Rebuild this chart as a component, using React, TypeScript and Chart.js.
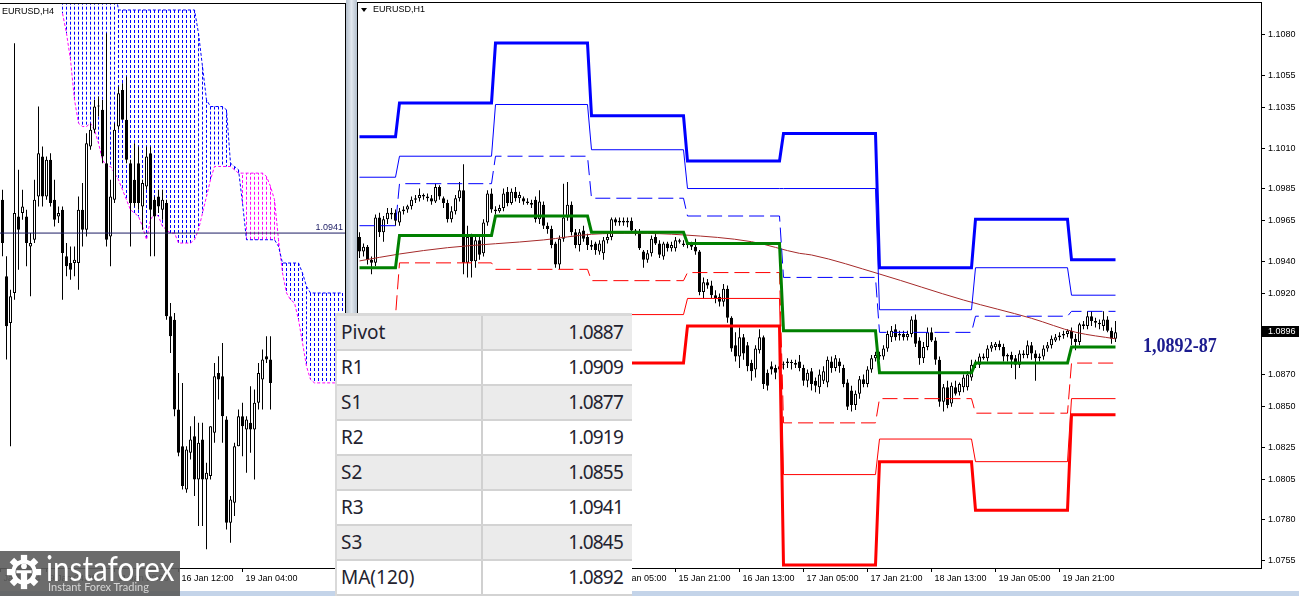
import React, { useEffect, useRef } from "react";
import { Chart, registerables } from "chart.js";

Chart.register(...registerables);

// ================= EURUSD H1 (right panel) =================
const h1Open = [
  1.0955,1.0946,1.0949,1.0941,1.0939,1.0967,1.0958,1.0966,1.0970,1.0970,
  1.0964,1.0971,1.0972,1.0974,1.0978,1.0979,1.0981,1.0980,1.0979,1.0977,
  1.0986,1.0979,1.0976,1.0966,1.0971,1.0979,1.0984,1.0939,1.0955,1.0940,
  1.0953,1.0945,1.0964,1.0982,1.0972,1.0971,1.0973,1.0983,1.0976,1.0983,
  1.0979,1.0979,1.0977,1.0976,1.0978,1.0966,1.0975,1.0962,1.0960,1.0951,
  1.0938,1.0954,1.0967,1.0975,1.0958,1.0950,1.0959,1.0955,1.0950,1.0951,
  1.0946,1.0945,1.0953,1.0955,1.0966,1.0964,1.0965,1.0964,1.0965,1.0959,
  1.0958,1.0946,1.0941,1.0945,1.0955,1.0951,1.0943,1.0951,1.0948,1.0948,
  1.0953,1.0951,1.0950,1.0950,1.0949,1.0946,1.0921,1.0927,1.0925,1.0919,
  1.0918,1.0915,1.0923,1.0905,1.0888,1.0881,1.0893,1.0888,1.0877,1.0873,
  1.0885,1.0893,1.0871,1.0875,1.0874,1.0873,1.0876,1.0877,1.0877,1.0877,
  1.0878,1.0874,1.0866,1.0872,1.0866,1.0862,1.0866,1.0865,1.0878,1.0874,
  1.0878,1.0874,1.0865,1.0860,1.0851,1.0858,1.0867,1.0864,1.0873,1.0880,
  1.0882,1.0881,1.0886,1.0893,1.0898,1.0894,1.0895,1.0893,1.0895,1.0904,
  1.0891,1.0880,1.0887,1.0896,1.0891,1.0879,1.0853,1.0862,1.0852,1.0862,
  1.0859,1.0862,1.0862,1.0868,1.0876,1.0876,1.0881,1.0880,1.0886,1.0887,
  1.0889,1.0887,1.0881,1.0882,1.0880,1.0876,1.0883,1.0882,1.0888,1.0883,
  1.0880,1.0881,1.0886,1.0888,1.0891,1.0893,1.0894,1.0895,1.0897,1.0892,
  1.0890,1.0901,1.0900,1.0906,1.0903,1.0902,1.0900,1.0904,1.0897,1.0892,
];
const h1High = [
  1.0958,1.0951,1.0950,1.0943,1.0969,1.0970,1.0968,1.0973,1.0973,1.0972,
  1.0973,1.0974,1.0975,1.0980,1.0981,1.0985,1.0982,1.0982,1.0981,1.0988,
  1.0987,1.0980,1.0978,1.0974,1.0981,1.0989,1.1000,1.0962,1.0957,1.0955,
  1.0955,1.0966,1.0984,1.0985,1.0974,1.0975,1.0985,1.0986,1.0985,1.0986,
  1.0983,1.0980,1.0979,1.0978,1.0980,1.0984,1.0977,1.0964,1.0962,1.0952,
  1.0956,1.0988,1.0989,1.0977,1.0960,1.0960,1.0962,1.0957,1.0953,1.0952,
  1.0953,1.0955,1.0957,1.0967,1.0967,1.0967,1.0967,1.0967,1.0967,1.0960,
  1.0960,1.0947,1.0947,1.0956,1.0957,1.0953,1.0952,1.0952,1.0952,1.0955,
  1.0954,1.0953,1.0952,1.0952,1.0954,1.0947,1.0930,1.0929,1.0928,1.0922,
  1.0920,1.0926,1.0925,1.0906,1.0896,1.0899,1.0895,1.0890,1.0879,1.0888,
  1.0898,1.0894,1.0873,1.0878,1.0876,1.0877,1.0878,1.0880,1.0879,1.0879,
  1.0882,1.0876,1.0873,1.0874,1.0868,1.0873,1.0875,1.0881,1.0881,1.0882,
  1.0880,1.0876,1.0867,1.0863,1.0860,1.0869,1.0870,1.0875,1.0882,1.0884,
  1.0884,1.0888,1.0897,1.0900,1.0901,1.0897,1.0897,1.0897,1.0906,1.0907,
  1.0893,1.0890,1.0899,1.0899,1.0893,1.0881,1.0864,1.0866,1.0865,1.0866,
  1.0865,1.0870,1.0872,1.0879,1.0879,1.0883,1.0883,1.0888,1.0890,1.0890,
  1.0891,1.0889,1.0883,1.0884,1.0882,1.0885,1.0885,1.0891,1.0890,1.0885,
  1.0883,1.0888,1.0890,1.0894,1.0895,1.0896,1.0897,1.0898,1.0899,1.0895,
  1.0902,1.0903,1.0909,1.0909,1.0905,1.0904,1.0909,1.0906,1.0899,1.0903,
];
const h1Low = [
  1.0942,1.0943,1.0938,1.0932,1.0937,1.0955,1.0952,1.0963,1.0966,1.0962,
  1.0962,1.0969,1.0970,1.0972,1.0976,1.0977,1.0978,1.0977,1.0975,1.0976,
  1.0978,1.0973,1.0964,1.0964,1.0969,1.0977,1.0932,1.0930,1.0930,1.0936,
  1.0941,1.0943,1.0962,1.0970,1.0969,1.0970,1.0971,1.0974,1.0975,1.0977,
  1.0976,1.0975,1.0975,1.0973,1.0964,1.0963,1.0960,1.0957,1.0948,1.0936,
  1.0935,1.0952,1.0965,1.0956,1.0948,1.0946,1.0952,1.0947,1.0947,1.0944,
  1.0944,1.0941,1.0951,1.0953,1.0962,1.0962,1.0962,1.0961,1.0958,1.0956,
  1.0947,1.0936,1.0939,1.0943,1.0950,1.0942,1.0941,1.0946,1.0946,1.0946,
  1.0951,1.0949,1.0948,1.0947,1.0944,1.0919,1.0917,1.0923,1.0917,1.0914,
  1.0912,1.0912,1.0902,1.0884,1.0878,1.0874,1.0879,1.0872,1.0866,1.0868,
  1.0883,1.0861,1.0860,1.0870,1.0867,1.0870,1.0873,1.0874,1.0873,1.0874,
  1.0872,1.0863,1.0862,1.0860,1.0859,1.0858,1.0864,1.0862,1.0871,1.0872,
  1.0871,1.0862,1.0848,1.0847,1.0848,1.0855,1.0862,1.0862,1.0871,1.0878,
  1.0879,1.0879,1.0884,1.0890,1.0891,1.0891,1.0891,1.0891,1.0893,1.0887,
  1.0876,1.0877,1.0885,1.0890,1.0876,1.0850,1.0847,1.0849,1.0850,1.0857,
  1.0857,1.0859,1.0860,1.0866,1.0874,1.0874,1.0879,1.0878,1.0884,1.0885,
  1.0885,1.0878,1.0878,1.0874,1.0867,1.0874,1.0880,1.0880,1.0879,1.0866,
  1.0878,1.0879,1.0884,1.0886,1.0890,1.0891,1.0892,1.0893,1.0888,1.0885,
  1.0888,1.0898,1.0898,1.0900,1.0899,1.0898,1.0897,1.0896,1.0889,1.0890,
];
const h1Close = [
  1.0946,1.0949,1.0941,1.0939,1.0967,1.0958,1.0966,1.0970,1.0969,1.0965,
  1.0971,1.0972,1.0974,1.0978,1.0979,1.0981,1.0980,1.0979,1.0977,1.0986,
  1.0980,1.0976,1.0966,1.0971,1.0979,1.0984,1.0939,1.0955,1.0940,1.0953,
  1.0944,1.0964,1.0982,1.0972,1.0971,1.0973,1.0982,1.0976,1.0983,1.0979,
  1.0981,1.0977,1.0976,1.0975,1.0966,1.0977,1.0962,1.0960,1.0950,1.0938,
  1.0954,1.0967,1.0975,1.0958,1.0950,1.0958,1.0954,1.0950,1.0949,1.0947,
  1.0951,1.0953,1.0955,1.0966,1.0964,1.0965,1.0964,1.0965,1.0959,1.0957,
  1.0948,1.0941,1.0945,1.0954,1.0951,1.0944,1.0951,1.0948,1.0950,1.0953,
  1.0952,1.0950,1.0951,1.0949,1.0946,1.0921,1.0927,1.0925,1.0919,1.0917,
  1.0915,1.0923,1.0905,1.0886,1.0881,1.0893,1.0883,1.0875,1.0872,1.0886,
  1.0893,1.0864,1.0863,1.0873,1.0871,1.0875,1.0876,1.0878,1.0877,1.0876,
  1.0874,1.0866,1.0871,1.0864,1.0863,1.0870,1.0872,1.0879,1.0874,1.0880,
  1.0875,1.0864,1.0850,1.0851,1.0858,1.0867,1.0864,1.0873,1.0880,1.0882,
  1.0881,1.0886,1.0895,1.0897,1.0893,1.0895,1.0893,1.0895,1.0904,1.0889,
  1.0880,1.0887,1.0896,1.0891,1.0879,1.0853,1.0862,1.0851,1.0863,1.0858,
  1.0864,1.0868,1.0870,1.0876,1.0877,1.0881,1.0880,1.0886,1.0888,1.0889,
  1.0887,1.0881,1.0882,1.0879,1.0876,1.0883,1.0882,1.0888,1.0883,1.0880,
  1.0881,1.0886,1.0888,1.0892,1.0893,1.0894,1.0895,1.0897,1.0892,1.0890,
  1.0901,1.0900,1.0906,1.0903,1.0902,1.0901,1.0904,1.0897,1.0892,1.0896,
];

const h1TickIndex = [15, 31, 47, 63, 79, 95, 111, 127, 143, 159, 175];
const h1TickLabels = [
  "11 Jan 05:00", "11 Jan 21:00", "12 Jan 13:00", "15 Jan 05:00", "15 Jan 21:00",
  "16 Jan 13:00", "17 Jan 05:00", "17 Jan 21:00", "18 Jan 13:00", "19 Jan 05:00", "19 Jan 21:00",
];
const h1PriceTicks = [1.108, 1.1055, 1.1035, 1.101, 1.0985, 1.0965, 1.094, 1.092, 1.087, 1.085, 1.0825, 1.0805, 1.078, 1.0755];

// daily pivot levels (first bar index of each day)
const pivotDayStart = [0, 10, 34, 58, 82, 106, 130, 154, 178];
const pivotR3 = [1.1017, 1.1038, 1.1075, 1.1030, 1.1002, 1.1019, 1.0936, 1.0966, 1.0941];
const pivotR2 = [1.0992, 1.1005, 1.1037, 1.1009, 1.0985, 1.0985, 1.0910, 1.0936, 1.0919];
const pivotR1 = [1.0962, 1.0988, 1.1005, 1.0979, 1.0968, 1.0930, 1.0896, 1.0906, 1.0909];
const pivotP = [1.0936, 1.0956, 1.0968, 1.0958, 1.0951, 1.0897, 1.0871, 1.0877, 1.0887];
const pivotS1 = [1.0906, 1.0939, 1.0935, 1.0928, 1.0933, 1.0840, 1.0855, 1.0846, 1.0877];
const pivotS2 = [1.0880, 1.0907, 1.0898, 1.0907, 1.0917, 1.0808, 1.0830, 1.0816, 1.0855];
const pivotS3 = [1.0850, 1.0890, 1.0865, 1.0877, 1.0900, 1.0752, 1.0816, 1.0786, 1.0845];

// MA(120) readings
const maIndex = [0, 10, 22, 46, 58, 69, 81, 98, 110, 113, 130, 151, 168, 179, 189];
const maValue = [1.09402, 1.09445, 1.09484, 1.09532, 1.09567, 1.09573, 1.09563, 1.09521, 1.09449, 1.09439, 1.09321, 1.0916, 1.09047, 1.08961, 1.0892];

// ================= EURUSD H4 (left panel) =================
const h4Open = [
  1.0951,1.0928,1.0914,1.0923,1.0946,1.0947,1.0946,1.0937,1.0939,1.0952,
  1.0964,1.0952,1.0963,1.0951,1.0946,1.0948,1.0934,1.0932,1.0932,1.0932,
  1.0948,1.0942,1.0967,1.0972,1.0979,1.0978,1.0962,1.0940,1.0951,1.0973,
  1.0984,1.0975,1.0962,1.0957,1.0962,1.0949,1.0955,1.0965,1.0951,1.0952,
  1.0948,1.0950,1.0916,1.0915,1.0888,1.0877,1.0864,1.0875,1.0880,1.0867,
  1.0879,1.0867,1.0868,1.0881,1.0899,1.0898,1.0885,1.0854,1.0860,1.0877,
  1.0886,1.0882,1.0884,1.0882,1.0890,1.0897,1.0904,1.0903,
];
const h4High = [
  1.0954,1.0934,1.0924,1.0998,1.0960,1.0954,1.0948,1.0941,1.0957,1.0979,
  1.0967,1.0964,1.0965,1.0957,1.0949,1.0949,1.0938,1.0937,1.0937,1.0952,
  1.0956,1.0971,1.0974,1.0981,1.0982,1.0981,1.1001,1.0957,1.0974,1.0985,
  1.0986,1.0988,1.0963,1.0968,1.0967,1.0957,1.0967,1.0967,1.0952,1.0954,
  1.0954,1.0951,1.0920,1.0917,1.0899,1.0896,1.0877,1.0883,1.0886,1.0884,
  1.0884,1.0872,1.0883,1.0902,1.0904,1.0908,1.0886,1.0862,1.0878,1.0888,
  1.0890,1.0886,1.0895,1.0894,1.0902,1.0906,1.0910,1.0910,
];
const h4Low = [
  1.0934,1.0903,1.0877,1.0921,1.0930,1.0945,1.0931,1.0922,1.0938,1.0949,
  1.0949,1.0951,1.0949,1.0943,1.0944,1.0921,1.0928,1.0927,1.0928,1.0924,
  1.0937,1.0940,1.0966,1.0971,1.0976,1.0962,1.0937,1.0931,1.0950,1.0972,
  1.0975,1.0962,1.0937,1.0949,1.0948,1.0942,1.0954,1.0934,1.0934,1.0947,
  1.0945,1.0915,1.0905,1.0886,1.0874,1.0864,1.0863,1.0873,1.0862,1.0853,
  1.0853,1.0846,1.0867,1.0878,1.0891,1.0878,1.0852,1.0848,1.0856,1.0877,
  1.0874,1.0869,1.0875,1.0867,1.0888,1.0888,1.0902,1.0888,
];
const h4Close = [
  1.0938,1.0913,1.0922,1.0947,1.0942,1.0949,1.0938,1.0938,1.0951,1.0965,
  1.0952,1.0963,1.0950,1.0945,1.0947,1.0935,1.0931,1.0930,1.0933,1.0948,
  1.0942,1.0968,1.0972,1.0979,1.0979,1.0964,1.0939,1.0952,1.0972,1.0983,
  1.0975,1.0963,1.0950,1.0950,1.0950,1.0956,1.0964,1.0948,1.0946,1.0949,
  1.0951,1.0916,1.0910,1.0888,1.0875,1.0865,1.0876,1.0879,1.0867,1.0878,
  1.0867,1.0869,1.0883,1.0898,1.0897,1.0886,1.0854,1.0861,1.0877,1.0886,
  1.0883,1.0885,1.0882,1.0890,1.0899,1.0903,1.0903,1.0896,
];

const h4TickIndex = [-0.5, 11, 28, 44, 60];
const h4TickLabels = ["Jan 2024", "9 Jan 04:00", "11 Jan 20:00", "16 Jan 12:00", "19 Jan 04:00"];
const h4Level = 1.0941;

// Ichimoku cloud (Senkou Span A / B), starting at bar cloudStart
const cloudStart = 15;
const senkouA = [
  1.1015,1.1015,1.1015,1.1015,1.1015,1.1015,1.1015,1.1015,1.1015,1.1015,1.1015,1.1015,1.1015,1.1015,
  1.1008,1.1008,1.1008,1.1008,1.1008,1.1008,1.1008,1.1008,1.1008,1.1008,
  1.1008,1.1008,1.1008,1.1008,1.1008,1.1008,1.1008,1.1008,1.1008,1.1008,
  1.1001,1.0991,1.0981,1.0979,1.0979,1.0979,1.0979,1.0978,
  1.0962,1.0961,1.0960,1.0950,1.0939,1.0939,1.0939,1.0939,1.0939,1.0939,1.0939,1.0939,
  1.0937,1.0932,1.0932,1.0932,1.0932,1.0932,1.0929,1.0925,
  1.0923,1.0923,1.0923,1.0923,1.0923,1.0923,1.0923,1.0923,1.0923,
];
const senkouB = [
  1.1007,1.1001,1.0993,1.0981,1.0974,1.0973,1.0973,1.0974,1.0972,1.0968,
  1.0963,1.0961,1.0961,1.0959,1.0957,1.0954,1.0951,1.0948,1.0947,1.0946,
  1.0943,1.0939,1.0945,1.0947,1.0946,1.0943,1.0942,1.0941,1.0941,1.0938,
  1.0938,1.0938,1.0938,1.0939,1.0942,1.0947,1.0952,1.0957,1.0961,1.0961,
  1.0961,1.0961,1.0961,1.0960,1.0959,1.0959,1.0959,1.0959,1.0959,1.0959,
  1.0959,1.0958,1.0955,1.0951,1.0939,1.0929,1.0923,1.0921,1.0920,1.0915,
  1.0908,1.0901,1.0897,1.0896,1.0896,1.0896,1.0896,1.0896,1.0896,1.0896,1.0896,
];

// ================= pivot table =================
const tableLabels = ["Pivot", "R1", "S1", "R2", "S2", "R3", "S3", "MA(120)"];
const tableValues = [1.0887, 1.0909, 1.0877, 1.0919, 1.0855, 1.0941, 1.0845, 1.0892];
const keyZoneText = "1,0892-87";

// ================= helpers =================
const AXIS_FONT = { family: "'Liberation Sans', Arial, sans-serif", size: 9 };

function candleDatasets(open: number[], high: number[], low: number[], close: number[]) {
  const idx = close.map((_, i) => i);
  return [
    {
      type: "bar",
      data: idx.map((i) => ({ x: i, y: [open[i], close[i]] })),
      backgroundColor: idx.map((i) => (close[i] >= open[i] ? "#ffffff" : "#000000")),
      borderColor: "#000000",
      borderWidth: 1,
      borderSkipped: false,
      barThickness: 3,
      grouped: false,
      minBarLength: 1,
      inflateAmount: 0,
      order: 5,
    },
    {
      type: "bar",
      data: idx.map((i) => ({ x: i, y: [low[i], high[i]] })),
      backgroundColor: "#000000",
      borderWidth: 0,
      barThickness: 1,
      grouped: false,
      inflateAmount: 0,
      order: 6,
    },
  ];
}

function lineDs(data: any[], color: string, width: number, dash: number[], order: number) {
  return {
    type: "line",
    data,
    borderColor: color,
    borderWidth: width,
    borderDash: dash,
    pointRadius: 0,
    fill: false,
    tension: 0,
    spanGaps: false,
    order,
  };
}

function stepPoints(levels: number[]) {
  const n = h1Close.length;
  const pts: { x: number; y: number }[] = [];
  levels.forEach((v, d) => {
    const end = (d + 1 < pivotDayStart.length ? pivotDayStart[d + 1] : n) - 1;
    pts.push({ x: pivotDayStart[d], y: v }, { x: end, y: v });
  });
  return pts;
}

function cloudColumns(blue: boolean) {
  const pts: { x: number; y: number | null }[] = [];
  senkouA.forEach((a, k) => {
    const b = senkouB[k];
    if ((a >= b) !== blue) return;
    const x = cloudStart + k;
    pts.push({ x, y: a }, { x, y: b }, { x, y: null });
  });
  return pts;
}

const baseOptions = {
  responsive: false,
  maintainAspectRatio: false,
  animation: false,
  devicePixelRatio: 1,
  events: [],
  plugins: { legend: { display: false }, tooltip: { enabled: false } },
};

function xAxis(min: number, max: number, tickIdx: number[], labels: string[]) {
  return {
    type: "linear",
    min,
    max,
    offset: false,
    bounds: "data",
    afterBuildTicks: (s: any) => {
      s.ticks = tickIdx.map((v) => ({ value: v }));
    },
    afterFit: (s: any) => {
      s.height = 28;
      s.paddingLeft = 0;
      s.paddingRight = 0;
    },
    ticks: {
      autoSkip: false,
      maxRotation: 0,
      minRotation: 0,
      align: "start",
      labelOffset: 3,
      padding: 1,
      color: "#000000",
      font: AXIS_FONT,
      callback: (_v: any, i: number) => labels[i] ?? "",
    },
    grid: { drawOnChartArea: false, drawTicks: true, tickLength: 4, color: "#000000", offset: false },
    border: { display: true, color: "#000000", width: 1 },
  };
}

const priceTagPlugin = {
  id: "priceTag",
  afterDraw(chart: any) {
    const { ctx, chartArea, scales } = chart;
    const last = h1Close[h1Close.length - 1];
    const y = Math.round(scales.y.getPixelForValue(last));
    ctx.save();
    ctx.fillStyle = "#000000";
    ctx.fillRect(chartArea.right + 1, y - 6, chart.width - chartArea.right - 1, 11);
    ctx.fillStyle = "#ffffff";
    ctx.font = "9px 'Liberation Sans', Arial, sans-serif";
    ctx.textBaseline = "middle";
    ctx.textAlign = "left";
    ctx.fillText(last.toFixed(4), chartArea.right + 7, y);
    ctx.restore();
  },
};

const levelLabelPlugin = {
  id: "levelLabel",
  afterDatasetsDraw(chart: any) {
    const { ctx, chartArea, scales } = chart;
    const y = scales.y.getPixelForValue(h4Level);
    ctx.save();
    ctx.fillStyle = "#1c1c64";
    ctx.font = "9px 'Liberation Sans', Arial, sans-serif";
    ctx.textAlign = "right";
    ctx.textBaseline = "bottom";
    ctx.fillText(h4Level.toFixed(4), chartArea.right - 2, y - 1);
    ctx.restore();
  },
};

function rightConfig() {
  return {
    type: "bar",
    data: {
      datasets: [
        lineDs(stepPoints(pivotR3), "#0000ff", 3, [], 1),
        lineDs(stepPoints(pivotR2), "#0000ff", 1, [], 2),
        lineDs(stepPoints(pivotR1), "#0000ff", 1, [15, 6], 2),
        lineDs(stepPoints(pivotP), "#008000", 3, [], 1),
        lineDs(stepPoints(pivotS1), "#ff0000", 1, [15, 6], 2),
        lineDs(stepPoints(pivotS2), "#ff0000", 1, [], 2),
        lineDs(stepPoints(pivotS3), "#ff0000", 3, [], 1),
        {
          ...lineDs(maIndex.map((x, k) => ({ x, y: maValue[k] })), "#a52a2a", 1, [], 3),
          cubicInterpolationMode: "monotone",
        },
        ...candleDatasets(h1Open, h1High, h1Low, h1Close),
      ],
    },
    options: {
      ...baseOptions,
      layout: { padding: { left: 1, top: 3, right: 0, bottom: 0 } },
      scales: {
        x: xAxis(-0.375, 225.375, h1TickIndex, h1TickLabels),
        y: {
          type: "linear",
          position: "right",
          min: 1.07502,
          max: 1.10998,
          bounds: "data",
          beginAtZero: false,
          afterBuildTicks: (s: any) => {
            s.ticks = h1PriceTicks.map((v) => ({ value: v }));
          },
          afterFit: (s: any) => {
            s.width = 38;
            s.paddingTop = 0;
            s.paddingBottom = 0;
          },
          ticks: {
            autoSkip: false,
            padding: 3,
            color: "#000000",
            font: AXIS_FONT,
            callback: (v: any) => Number(v).toFixed(4),
          },
          grid: { drawOnChartArea: false, drawTicks: true, tickLength: 4, color: "#000000" },
          border: { display: true, color: "#000000", width: 1 },
        },
      },
    },
    plugins: [priceTagPlugin],
  };
}

function leftConfig() {
  const idxA = senkouA.map((a, k) => ({ x: cloudStart + k, y: a }));
  const idxB = senkouB.map((b, k) => ({ x: cloudStart + k, y: b }));
  return {
    type: "bar",
    data: {
      datasets: [
        lineDs([{ x: -1, y: h4Level }, { x: 90, y: h4Level }], "#1c1c64", 1, [], 1),
        ...candleDatasets(h4Open, h4High, h4Low, h4Close),
        lineDs(idxA, "#0000ff", 1, [3, 2], 8),
        lineDs(idxB, "#ff00ff", 1, [3, 2], 8),
        lineDs(cloudColumns(true), "#0000ff", 1, [3, 2], 10),
        lineDs(cloudColumns(false), "#ff00ff", 1, [3, 2], 10),
      ],
    },
    options: {
      ...baseOptions,
      layout: { padding: { left: 0, top: 4, right: 0, bottom: 0 } },
      scales: {
        x: xAxis(-0.625, 85.625, h4TickIndex, h4TickLabels),
        y: { type: "linear", display: false, min: 1.08404, max: 1.10098, bounds: "data", beginAtZero: false },
      },
    },
    plugins: [levelLabelPlugin],
  };
}

function Logo() {
  const teeth = [0, 45, 90, 135, 180, 225, 270, 315];
  return (
    <div
      style={{
        position: "absolute",
        left: 0,
        top: 551,
        width: 180,
        height: 45,
        background: "rgba(92,92,92,0.9)",
        overflow: "hidden",
      }}
    >
      <svg width="36" height="36" viewBox="0 0 40 40" style={{ position: "absolute", left: 6, top: 3 }}>
        <g fill="#ffffff">
          {teeth.map((a) => (
            <rect key={a} x="16.5" y="1" width="7" height="8" transform={`rotate(${a} 20 20)`} />
          ))}
          <circle cx="20" cy="20" r="14" />
        </g>
        <circle cx="20" cy="20" r="9.5" fill="#5c5c5c" />
        <circle cx="20" cy="13.5" r="3.2" fill="#ffffff" />
        <path d="M11.5 18 L28.5 18 L28.5 21.5 L23.5 21.5 L23.5 33 L16.5 33 L16.5 21.5 L11.5 21.5 Z" fill="#ffffff" />
      </svg>
      <div
        style={{
          position: "absolute",
          left: 46,
          top: -3,
          fontFamily: "Lato, 'Open Sans', sans-serif",
          fontSize: 34,
          lineHeight: "40px",
          color: "#ffffff",
          transform: "scaleX(0.87)",
          transformOrigin: "left top",
          whiteSpace: "nowrap",
        }}
      >
        instaforex
      </div>
      <div
        style={{
          position: "absolute",
          left: 48,
          top: 29,
          fontFamily: "Lato, 'Open Sans', sans-serif",
          fontSize: 11,
          lineHeight: "13px",
          color: "#d6d6d6",
          whiteSpace: "nowrap",
        }}
      >
        Instant Forex Trading
      </div>
    </div>
  );
}

function PivotTable() {
  return (
    <div
      style={{
        position: "absolute",
        left: 335,
        top: 313,
        width: 297,
        height: 283,
        background: "#ffffff",
        borderTop: "3px solid #d9d9d9",
        borderLeft: "2px solid #d9d9d9",
        boxSizing: "border-box",
        fontFamily: "'Noto Sans', 'Open Sans', sans-serif",
        fontSize: 19,
        color: "#23232f",
      }}
    >
      {tableLabels.map((lab, k) => (
        <div
          key={lab}
          style={{
            height: 35,
            display: "flex",
            background: k % 2 === 0 ? "#ebebeb" : "#ffffff",
            borderBottom: "2px solid #d3d3d3",
            boxSizing: "border-box",
            lineHeight: "33px",
          }}
        >
          <div style={{ width: 140, borderRight: "2px solid #d0d0d0", paddingLeft: 4, boxSizing: "content-box" }}>
            {lab}
          </div>
          <div style={{ flex: 1, textAlign: "right", paddingRight: 9, letterSpacing: "-0.8px" }}>
            {tableValues[k].toFixed(4)}
          </div>
        </div>
      ))}
    </div>
  );
}

export default function App() {
  const leftRef = useRef<HTMLCanvasElement>(null);
  const rightRef = useRef<HTMLCanvasElement>(null);

  useEffect(() => {
    const charts: Chart[] = [];
    if (leftRef.current) charts.push(new Chart(leftRef.current, leftConfig() as any));
    if (rightRef.current) charts.push(new Chart(rightRef.current, rightConfig() as any));
    return () => charts.forEach((c) => c.destroy());
  }, []);

  const label9: React.CSSProperties = {
    position: "absolute",
    fontFamily: "'Liberation Sans', Arial, sans-serif",
    fontSize: 9,
    lineHeight: "11px",
    color: "#000",
    whiteSpace: "nowrap",
  };

  return (
    <div
      style={{
        position: "fixed",
        left: 0,
        top: 0,
        width: 1299,
        height: 596,
        background: "#ffffff",
        overflow: "hidden",
      }}
    >
      <canvas ref={leftRef} width={345} height={596} style={{ position: "absolute", left: 0, top: 0, display: "block" }} />
      <canvas ref={rightRef} width={942} height={596} style={{ position: "absolute", left: 357, top: 0, display: "block" }} />

      {/* frames */}
      <div style={{ position: "absolute", left: 0, top: 3, width: 346, height: 1, background: "#000" }} />
      <div style={{ position: "absolute", left: 345, top: 3, width: 1, height: 593, background: "#000" }} />
      <div
        style={{
          position: "absolute",
          left: 346,
          top: 0,
          width: 11,
          height: 596,
          background: "linear-gradient(90deg, #b3bfcc, #e2e8ef 50%, #b3bfcc)",
        }}
      />
      <div style={{ position: "absolute", left: 357, top: 2, width: 905, height: 1, background: "#000" }} />
      <div style={{ position: "absolute", left: 357, top: 2, width: 1, height: 567, background: "#000" }} />
      <div style={{ position: "absolute", left: 0, top: 591, width: 1299, height: 5, background: "#c4d4e9" }} />

      {/* titles */}
      <div style={{ ...label9, left: 2, top: 6 }}>EURUSD,H4</div>
      <div
        style={{
          position: "absolute",
          left: 361,
          top: 8,
          width: 0,
          height: 0,
          borderLeft: "3px solid transparent",
          borderRight: "3px solid transparent",
          borderTop: "4px solid #000",
        }}
      />
      <div style={{ ...label9, left: 373, top: 4 }}>EURUSD,H1</div>

      {/* key zone annotation */}
      <div
        style={{
          position: "absolute",
          left: 1143,
          top: 335,
          fontFamily: "'Liberation Serif', 'DejaVu Serif', serif",
          fontWeight: 700,
          fontSize: 21,
          lineHeight: "21px",
          color: "#1c1c8f",
          transform: "scaleX(0.86)",
          transformOrigin: "left top",
          whiteSpace: "nowrap",
        }}
      >
        {keyZoneText}
      </div>

      <PivotTable />
      <Logo />
    </div>
  );
}
